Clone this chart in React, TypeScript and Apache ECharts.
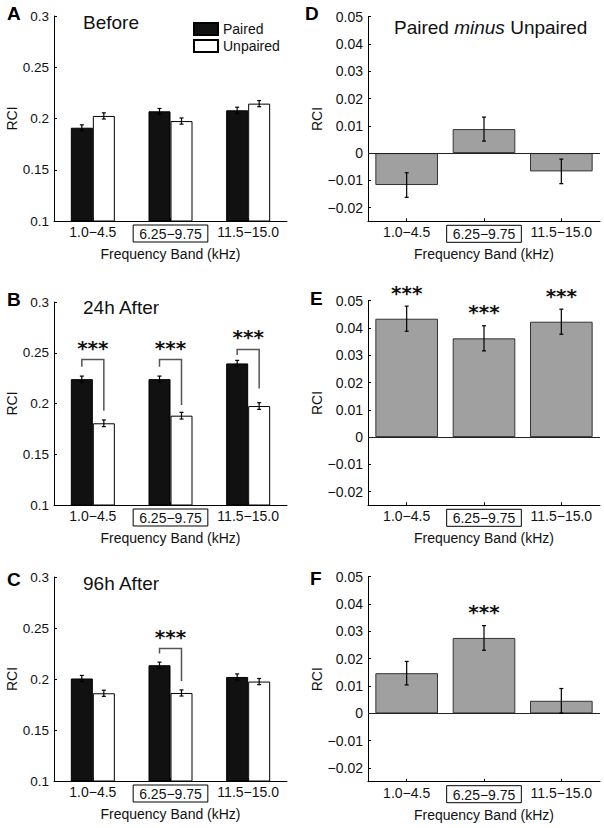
import React, { useEffect, useRef } from 'react';
import * as echarts from 'echarts';

const categories = ['1.0−4.5', '6.25−9.75', '11.5−15.0'];
const leftTicks = [0.1, 0.15, 0.2, 0.25, 0.3];
const rightTicks = [-0.02, -0.01, 0, 0.01, 0.02, 0.03, 0.04, 0.05];

// Panel A (Before)
const beforePaired = [0.191, 0.207, 0.208];
const beforePairedErr = [0.0028, 0.0028, 0.003];
const beforeUnpaired = [0.2025, 0.1975, 0.2145];
const beforeUnpairedErr = [0.003, 0.003, 0.003];
// Panel B (24h After)
const after24Paired = [0.224, 0.224, 0.2395];
const after24PairedErr = [0.003, 0.003, 0.003];
const after24Unpaired = [0.1805, 0.188, 0.1975];
const after24UnpairedErr = [0.0033, 0.0033, 0.0033];
// Panel C (96h After)
const after96Paired = [0.2005, 0.2135, 0.202];
const after96PairedErr = [0.003, 0.003, 0.003];
const after96Unpaired = [0.186, 0.1863, 0.1975];
const after96UnpairedErr = [0.003, 0.003, 0.003];
// Paired minus Unpaired
const diffBefore = [-0.0117, 0.0088, -0.0067];
const diffBeforeErr = [0.0045, 0.0044, 0.0045];
const diff24 = [0.0434, 0.0362, 0.0423];
const diff24Err = [0.0046, 0.0046, 0.0046];
const diff96 = [0.0147, 0.0276, 0.0046];
const diff96Err = [0.0043, 0.0045, 0.0045];

// Significance brackets: [category, leftLegEnd, top, rightLegEnd]
const bracket24Cats = [0, 1, 2];
const bracket24Left = [0.2362, 0.2362, 0.2477];
const bracket24Top = [0.2434, 0.2434, 0.2532];
const bracket24Right = [0.1929, 0.1985, 0.2149];
const stars24 = [0.2558, 0.2558, 0.2673];

const bracket96Cats = [1];
const bracket96Left = [0.225];
const bracket96Top = [0.2299];
const bracket96Right = [0.198];
const stars96 = [0.2428];

const starsDiff24Cats = [0, 1, 2];
const starsDiff24 = [0.0533, 0.0463, 0.0521];
const starsDiff96Cats = [1];
const starsDiff96 = [0.0377];

const FONT = 'Liberation Sans, Arial, Helvetica, sans-serif';
const INK = '#111';

const fmt = (v: number) => {
  if (Math.abs(v) < 1e-9) return '0';
  return String(+v.toFixed(3)).replace('-', '−');
};

function xAxis(gi: number) {
  return {
    type: 'category',
    gridIndex: gi,
    data: categories,
    name: 'Frequency Band (kHz)',
    nameLocation: 'middle',
    nameGap: 26,
    nameTextStyle: { fontSize: 14, fontFamily: FONT, color: INK },
    axisLine: { show: true, onZero: false, lineStyle: { color: '#000', width: 1 } },
    axisTick: { show: true, inside: true, length: 3, alignWithLabel: true, lineStyle: { color: '#000' } },
    axisLabel: {
      interval: 0,
      hideOverlap: false,
      fontSize: 14,
      fontFamily: FONT,
      color: INK,
      margin: 4,
      formatter: (v: string, i: number) => (i === 1 ? `{box|${v}}` : v),
      rich: {
        box: {
          fontSize: 14,
          fontFamily: FONT,
          color: INK,
          borderColor: '#000',
          borderWidth: 1,
          padding: [2, 6, 1, 6],
        },
      },
    },
    splitLine: { show: false },
  };
}

function yAxisLeft(gi: number) {
  return {
    type: 'value',
    gridIndex: gi,
    min: leftTicks[0],
    max: leftTicks[leftTicks.length - 1],
    interval: 0.05,
    name: 'RCI',
    nameLocation: 'middle',
    nameGap: 33,
    nameTextStyle: { fontSize: 14, fontFamily: FONT, color: INK },
    axisLine: { show: true, lineStyle: { color: '#000', width: 1 } },
    axisTick: { show: true, inside: true, length: 3, lineStyle: { color: '#000' } },
    axisLabel: { fontSize: 13.5, fontFamily: FONT, color: INK, margin: 5, formatter: fmt },
    splitLine: { show: false },
  };
}

function yAxisRight(gi: number) {
  return {
    type: 'value',
    gridIndex: gi,
    min: -0.025,
    max: 0.05,
    name: 'RCI',
    nameLocation: 'middle',
    nameGap: 43,
    nameTextStyle: { fontSize: 14, fontFamily: FONT, color: INK },
    axisLine: { show: true, lineStyle: { color: '#000', width: 1 } },
    axisTick: { show: true, inside: true, length: 3, customValues: rightTicks, lineStyle: { color: '#000' } },
    axisLabel: { fontSize: 14, fontFamily: FONT, color: INK, margin: 5, customValues: rightTicks, formatter: fmt },
    splitLine: { show: false },
  };
}

function errorSeries(gi: number, values: number[], errs: number[], offset: number) {
  return {
    type: 'custom',
    xAxisIndex: gi,
    yAxisIndex: gi,
    clip: false,
    silent: true,
    z: 5,
    data: values.map((v, i) => [i, v, errs[i]]),
    encode: { x: 0, y: 1 },
    renderItem: (_p: any, api: any) => {
      const i = api.value(0);
      const v = api.value(1);
      const e = api.value(2);
      const top = api.coord([i, v + e]);
      const bot = api.coord([i, v - e]);
      const x = top[0] + offset;
      const c = 2;
      const st = { stroke: '#000', lineWidth: 1.2 };
      return {
        type: 'group',
        children: [
          { type: 'line', shape: { x1: x, y1: top[1], x2: x, y2: bot[1] }, style: st },
          { type: 'line', shape: { x1: x - c, y1: top[1], x2: x + c, y2: top[1] }, style: st },
          { type: 'line', shape: { x1: x - c, y1: bot[1], x2: x + c, y2: bot[1] }, style: st },
        ],
      };
    },
  };
}

function bracketSeries(gi: number, cats: number[], left: number[], top: number[], right: number[]) {
  return {
    type: 'custom',
    xAxisIndex: gi,
    yAxisIndex: gi,
    clip: false,
    silent: true,
    z: 6,
    data: cats.map((c, i) => [c, left[i], top[i], right[i]]),
    encode: { x: 0, y: 2 },
    renderItem: (_p: any, api: any) => {
      const c = api.value(0);
      const pl = api.coord([c, api.value(1)]);
      const pt = api.coord([c, api.value(2)]);
      const pr = api.coord([c, api.value(3)]);
      const x = pt[0];
      return {
        type: 'polyline',
        shape: { points: [[x - 11, pl[1]], [x - 11, pt[1]], [x + 11, pt[1]], [x + 11, pr[1]]] },
        style: { stroke: '#555', lineWidth: 1.5, fill: 'none' },
      };
    },
  };
}

function starSeries(gi: number, cats: number[], vals: number[]) {
  return {
    type: 'custom',
    xAxisIndex: gi,
    yAxisIndex: gi,
    clip: false,
    silent: true,
    z: 7,
    data: cats.map((c, i) => [c, vals[i]]),
    encode: { x: 0, y: 1 },
    renderItem: (_p: any, api: any) => {
      const p = api.coord([api.value(0), api.value(1)]);
      return {
        type: 'text',
        x: p[0],
        y: p[1] + 1.5,
        style: {
          text: '***',
          fontSize: 20,
          fontWeight: 'bold',
          fontFamily: 'DejaVu Sans',
          fill: INK,
          align: 'center',
          verticalAlign: 'middle',
        },
      };
    },
  };
}

function pairedBars(gi: number, paired: number[], unpaired: number[]) {
  return [
    {
      name: 'Paired',
      type: 'bar',
      xAxisIndex: gi,
      yAxisIndex: gi,
      data: paired,
      barWidth: 22,
      barGap: '0%',
      itemStyle: { color: '#111', borderColor: '#000', borderWidth: 1 },
    },
    {
      name: 'Unpaired',
      type: 'bar',
      xAxisIndex: gi,
      yAxisIndex: gi,
      data: unpaired,
      barWidth: 22,
      barGap: '0%',
      itemStyle: { color: '#fff', borderColor: '#000', borderWidth: 1 },
    },
  ];
}

function diffBars(gi: number, vals: number[]) {
  return {
    name: 'Paired minus Unpaired',
    type: 'bar',
    xAxisIndex: gi,
    yAxisIndex: gi,
    data: vals,
    barCategoryGap: '19%',
    itemStyle: { color: '#a0a0a0', borderColor: '#333', borderWidth: 1 },
    markLine: {
      silent: true,
      symbol: ['none', 'none'],
      label: { show: false },
      lineStyle: { color: '#222', width: 1, type: 'solid' },
      data: [{ yAxis: 0 }],
    },
  };
}

export default function App() {
  const ref = useRef<HTMLDivElement>(null);
  useEffect(() => {
    if (!ref.current) return;
    const chart = echarts.init(ref.current, undefined, { renderer: 'svg' });
    const titleStyle = { fontSize: 19, fontFamily: FONT, fill: INK, verticalAlign: 'middle' };
    const letterStyle = { fontSize: 19, fontWeight: 'bold', fontFamily: FONT, fill: '#000', verticalAlign: 'middle' };
    chart.setOption({
      animation: false,
      backgroundColor: '#fff',
      grid: [
        { left: 54, top: 16, width: 233, height: 205 },
        { left: 54, top: 302, width: 233, height: 203 },
        { left: 54, top: 577, width: 233, height: 204 },
        { left: 368, top: 16.7, width: 232, height: 204.6 },
        { left: 368, top: 300.7, width: 232, height: 204.6 },
        { left: 368, top: 576.7, width: 232, height: 205 },
      ],
      xAxis: [0, 1, 2, 3, 4, 5].map((i) => xAxis(i)),
      yAxis: [yAxisLeft(0), yAxisLeft(1), yAxisLeft(2), yAxisRight(3), yAxisRight(4), yAxisRight(5)],
      legend: {
        data: ['Paired', 'Unpaired'],
        orient: 'vertical',
        left: 188,
        top: 17,
        itemWidth: 24,
        itemHeight: 12,
        itemGap: 3,
        icon: 'rect',
        selectedMode: false,
        textStyle: { fontSize: 14, fontFamily: FONT, color: INK },
      },
      series: [
        ...pairedBars(0, beforePaired, beforeUnpaired),
        errorSeries(0, beforePaired, beforePairedErr, -11),
        errorSeries(0, beforeUnpaired, beforeUnpairedErr, 11),
        ...pairedBars(1, after24Paired, after24Unpaired),
        errorSeries(1, after24Paired, after24PairedErr, -11),
        errorSeries(1, after24Unpaired, after24UnpairedErr, 11),
        bracketSeries(1, bracket24Cats, bracket24Left, bracket24Top, bracket24Right),
        starSeries(1, bracket24Cats, stars24),
        ...pairedBars(2, after96Paired, after96Unpaired),
        errorSeries(2, after96Paired, after96PairedErr, -11),
        errorSeries(2, after96Unpaired, after96UnpairedErr, 11),
        bracketSeries(2, bracket96Cats, bracket96Left, bracket96Top, bracket96Right),
        starSeries(2, bracket96Cats, stars96),
        diffBars(3, diffBefore),
        errorSeries(3, diffBefore, diffBeforeErr, 0),
        diffBars(4, diff24),
        errorSeries(4, diff24, diff24Err, 0),
        starSeries(4, starsDiff24Cats, starsDiff24),
        diffBars(5, diff96),
        errorSeries(5, diff96, diff96Err, 0),
        starSeries(5, starsDiff96Cats, starsDiff96),
      ],
      graphic: [
        { type: 'text', left: 7, top: 4, style: { ...letterStyle, text: 'A', verticalAlign: 'top' } },
        { type: 'text', left: 7, top: 290, style: { ...letterStyle, text: 'B', verticalAlign: 'top' } },
        { type: 'text', left: 7, top: 570, style: { ...letterStyle, text: 'C', verticalAlign: 'top' } },
        { type: 'text', left: 305, top: 3.5, style: { ...letterStyle, text: 'D', verticalAlign: 'top' } },
        { type: 'text', left: 310, top: 289, style: { ...letterStyle, text: 'E', verticalAlign: 'top' } },
        { type: 'text', left: 310, top: 568.5, style: { ...letterStyle, text: 'F', verticalAlign: 'top' } },
        { type: 'text', left: 83, top: 13, style: { ...titleStyle, text: 'Before', verticalAlign: 'top' } },
        { type: 'text', left: 83, top: 297.5, style: { ...titleStyle, text: '24h After', verticalAlign: 'top' } },
        { type: 'text', left: 83, top: 573.5, style: { ...titleStyle, text: '96h After', verticalAlign: 'top' } },
        {
          type: 'text',
          left: 394,
          top: 17.5,
          style: {
            ...titleStyle,
            verticalAlign: 'top',
            text: 'Paired {i|minus} Unpaired',
            rich: { i: { fontStyle: 'italic', fontSize: 19, fontFamily: FONT, fill: INK } },
          },
        },
      ],
    });
    return () => chart.dispose();
  }, []);
  return <div ref={ref} style={{ position: 'fixed', left: 0, top: 0, width: 604, height: 828, background: '#fff' }} />;
}
